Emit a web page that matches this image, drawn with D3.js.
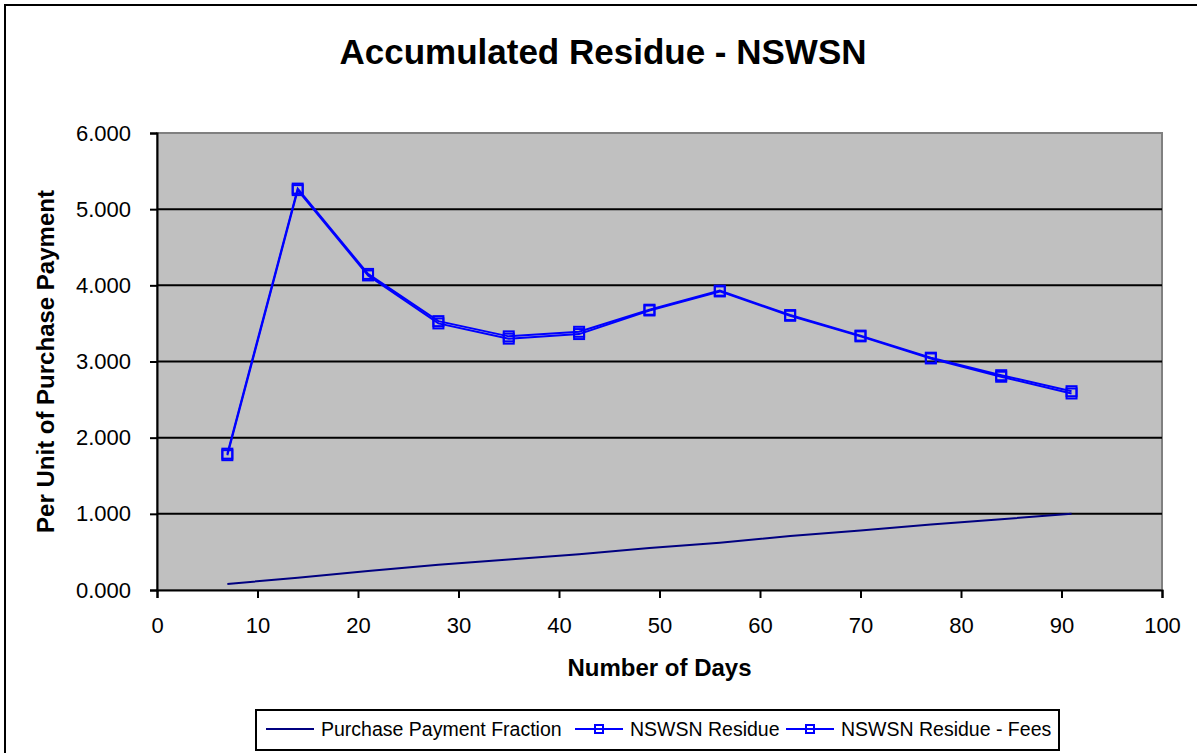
<!DOCTYPE html>
<html>
<head>
<meta charset="utf-8">
<script src="https://cdn.jsdelivr.net/npm/d3@7"></script>
<style>
  body { margin: 0; background: #fff; }
  svg { display: block; font-family: "Liberation Sans", Arial, sans-serif; }
</style>
</head>
<body>
<svg id="chart"></svg>
<script>
// data
const days = [7, 14, 21, 28, 35, 42, 49, 56, 63, 70, 77, 84, 91];
const paymentFraction = [0.08, 0.16, 0.25, 0.33, 0.40, 0.47, 0.55, 0.62, 0.71, 0.78, 0.86, 0.93, 1.00];
const residue = [1.79, 5.27, 4.15, 3.53, 3.33, 3.39, 3.68, 3.93, 3.61, 3.34, 3.05, 2.82, 2.61];
const residueFees = [1.77, 5.25, 4.13, 3.50, 3.30, 3.36, 3.67, 3.92, 3.60, 3.33, 3.04, 2.80, 2.58];
const xTicks = [0, 10, 20, 30, 40, 50, 60, 70, 80, 90, 100];
const yTicks = [0, 1, 2, 3, 4, 5, 6];
const seriesNames = ["Purchase Payment Fraction", "NSWSN Residue", "NSWSN Residue - Fees"];

const W = 1197, H = 753;
const plot = { left: 157, top: 133, right: 1162, bottom: 590 };

const svg = d3.select("#chart").attr("width", W).attr("height", H);

// chart border (only left & top visible in the frame)
svg.append("rect")
    .attr("x", 5).attr("y", 5)
    .attr("width", W + 20).attr("height", H + 20)
    .attr("fill", "#fff").attr("stroke", "#000").attr("stroke-width", 2);

const x = d3.scaleLinear().domain([0, 100]).range([plot.left, plot.right]);
const y = d3.scaleLinear().domain([0, 6]).range([plot.bottom, plot.top]);

// plot area
svg.append("rect")
    .attr("x", plot.left).attr("y", plot.top)
    .attr("width", plot.right - plot.left).attr("height", plot.bottom - plot.top)
    .attr("fill", "#c0c0c0").attr("stroke", "#808080").attr("stroke-width", 2);

// gridlines
svg.append("g").selectAll("line")
    .data(yTicks.filter(d => d > 0 && d < 6))
    .join("line")
    .attr("x1", plot.left).attr("x2", plot.right)
    .attr("y1", d => y(d)).attr("y2", d => y(d))
    .attr("stroke", "#000").attr("stroke-width", 2);

// axes
const yAxis = svg.append("g")
    .attr("transform", `translate(${plot.left},0)`)
    .call(d3.axisLeft(y).tickValues(yTicks).tickFormat(d3.format(".3f")).tickSize(7).tickPadding(19));
const xAxis = svg.append("g")
    .attr("transform", `translate(0,${plot.bottom})`)
    .call(d3.axisBottom(x).tickValues(xTicks).tickSize(8).tickPadding(19));

[yAxis, xAxis].forEach(g => {
    g.select(".domain").attr("stroke", "#000").attr("stroke-width", 2);
    g.selectAll(".tick line").attr("stroke", "#000").attr("stroke-width", 2);
    g.selectAll(".tick text").attr("fill", "#000")
        .style("font-size", "22px").style("font-family", "Liberation Sans, Arial, sans-serif");
});

// lines
const line = vals => d3.line().x((d, i) => x(days[i])).y(d => y(d))(vals);

svg.append("path").attr("d", line(paymentFraction))
    .attr("fill", "none").attr("stroke", "#000080").attr("stroke-width", 2);

[residue, residueFees].forEach(vals => {
    svg.append("path").attr("d", line(vals))
        .attr("fill", "none").attr("stroke", "#0000ff").attr("stroke-width", 2);
    svg.append("g").selectAll("rect")
        .data(vals)
        .join("rect")
        .attr("x", (d, i) => x(days[i]) - 5)
        .attr("y", d => y(d) - 5)
        .attr("width", 10).attr("height", 10)
        .attr("fill", "none").attr("stroke", "#0000ff").attr("stroke-width", 2);
});

// titles
svg.append("text")
    .attr("x", 603).attr("y", 64)
    .attr("text-anchor", "middle")
    .style("font-size", "35px").style("font-weight", "bold")
    .text("Accumulated Residue - NSWSN");

svg.append("text")
    .attr("x", (plot.left + plot.right) / 2).attr("y", 676)
    .attr("text-anchor", "middle")
    .style("font-size", "24px").style("font-weight", "bold")
    .text("Number of Days");

svg.append("text")
    .attr("transform", `translate(54,${(plot.top + plot.bottom) / 2}) rotate(-90)`)
    .attr("text-anchor", "middle")
    .style("font-size", "24px").style("font-weight", "bold")
    .text("Per Unit of Purchase Payment");

// legend
const legend = svg.append("g");
legend.append("rect")
    .attr("x", 256).attr("y", 710).attr("width", 803).attr("height", 40)
    .attr("fill", "#fff").attr("stroke", "#000").attr("stroke-width", 2);

const legendItems = [
    { x: 266, color: "#000080", marker: false },
    { x: 575, color: "#0000ff", marker: true },
    { x: 786, color: "#0000ff", marker: true }
];
legendItems.forEach((it, i) => {
    const cy = 729;
    legend.append("line")
        .attr("x1", it.x).attr("x2", it.x + 48)
        .attr("y1", cy).attr("y2", cy)
        .attr("stroke", it.color).attr("stroke-width", 2);
    if (it.marker) {
        legend.append("rect")
            .attr("x", it.x + 20).attr("y", cy - 4)
            .attr("width", 8).attr("height", 8)
            .attr("fill", "none").attr("stroke", it.color).attr("stroke-width", 2);
    }
    legend.append("text")
        .attr("x", it.x + 55).attr("y", cy + 7)
        .style("font-size", "19.5px")
        .text(seriesNames[i]);
});
</script>
</body>
</html>
